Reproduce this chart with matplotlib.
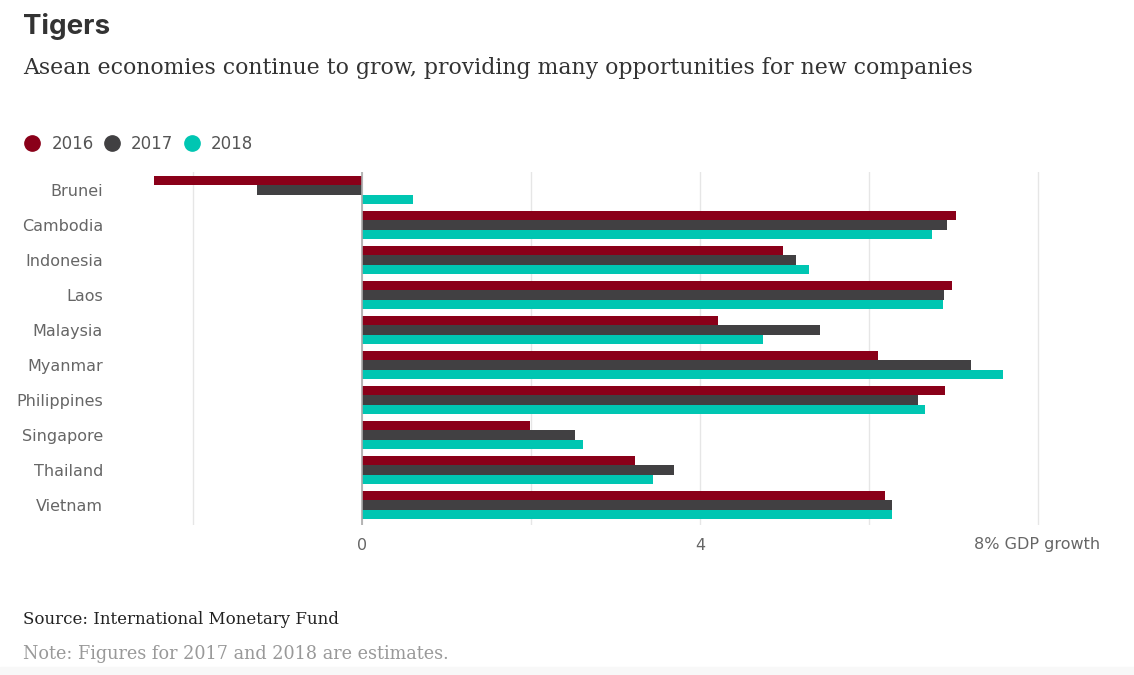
import matplotlib.pyplot as plt
import numpy as np
from matplotlib.lines import Line2D
from matplotlib.patches import Rectangle

countries = ['Brunei', 'Cambodia', 'Indonesia', 'Laos', 'Malaysia',
             'Myanmar', 'Philippines', 'Singapore', 'Thailand', 'Vietnam']
g2016 = [-2.47, 7.03, 4.99, 6.99, 4.21, 6.11, 6.90, 1.99, 3.23, 6.19]
g2017 = [-1.25, 6.93, 5.14, 6.89, 5.42, 7.21, 6.58, 2.52, 3.69, 6.28]
g2018 = [0.60, 6.75, 5.29, 6.88, 4.75, 7.59, 6.67, 2.62, 3.44, 6.28]
years = ['2016', '2017', '2018']
colors = ['#8a0019', '#414042', '#00c6b2']

W, H = 1134, 675
fig = plt.figure(figsize=(W / 100, H / 100), dpi=100)
fig.patch.set_facecolor('white')

# axes placement in pixels
left, right, top, bottom = 151, 1046, 172, 525
ax = fig.add_axes([left / W, 1 - bottom / H, (right - left) / W, (bottom - top) / H])

y = np.arange(len(countries))
h = 0.268
for i, (vals, c) in enumerate(zip([g2016, g2017, g2018], colors)):
    ax.barh(y + (i - 1) * h, vals, height=h, color=c, zorder=3)

ax.set_xlim(-2.5, 8.1)
ax.set_ylim(9.57, -0.51)
ax.set_xticks([-2, 0, 2, 4, 6, 8])
ax.set_xticklabels(['', '0', '', '4', '', '8% GDP growth'])
ax.set_yticks(y)
ax.set_yticklabels(countries)
ax.tick_params(axis='both', length=0, colors='#666666', labelsize=11.5)
ax.tick_params(axis='x', pad=9)
# y labels right edge at ~103 px
ax.tick_params(axis='y', pad=(left - 103) * 72 / 100)
ax.grid(axis='x', color='#e6e6e6', lw=1, zorder=0)
ax.axvline(0, color='#aaaaaa', lw=1.2, zorder=4)
for s in ax.spines.values():
    s.set_visible(False)

fig.text(23 / W, 1 - 26 / H, 'Tigers', fontsize=20, fontweight='bold',
         color='#333333', va='center', family='Inter')
fig.text(23 / W, 1 - 68 / H,
         'Asean economies continue to grow, providing many opportunities for new companies',
         fontsize=15.8, color='#333333', va='center', family='DejaVu Serif')

handles = [Line2D([], [], marker='o', ls='none', ms=11, color=c) for c in colors]
fig.legend(handles, years, loc='center left', bbox_to_anchor=(4 / W, 1 - 144 / H),
           ncol=3, frameon=False, fontsize=12, handletextpad=0.35, columnspacing=0.3,
           handlelength=1.6, labelcolor='#555555')

fig.text(23 / W, 1 - 620 / H, 'Source: International Monetary Fund',
         fontsize=12, color='#222222', va='center', family='DejaVu Serif')
fig.text(23 / W, 1 - 654 / H, 'Note: Figures for 2017 and 2018 are estimates.',
         fontsize=12.7, color='#999999', va='center', family='DejaVu Serif')

fig.patches.append(Rectangle((0, 0), 1, 8 / H, transform=fig.transFigure,
                             color='#f8f8f8', zorder=-1))

fig.savefig('out.png', dpi=100)
